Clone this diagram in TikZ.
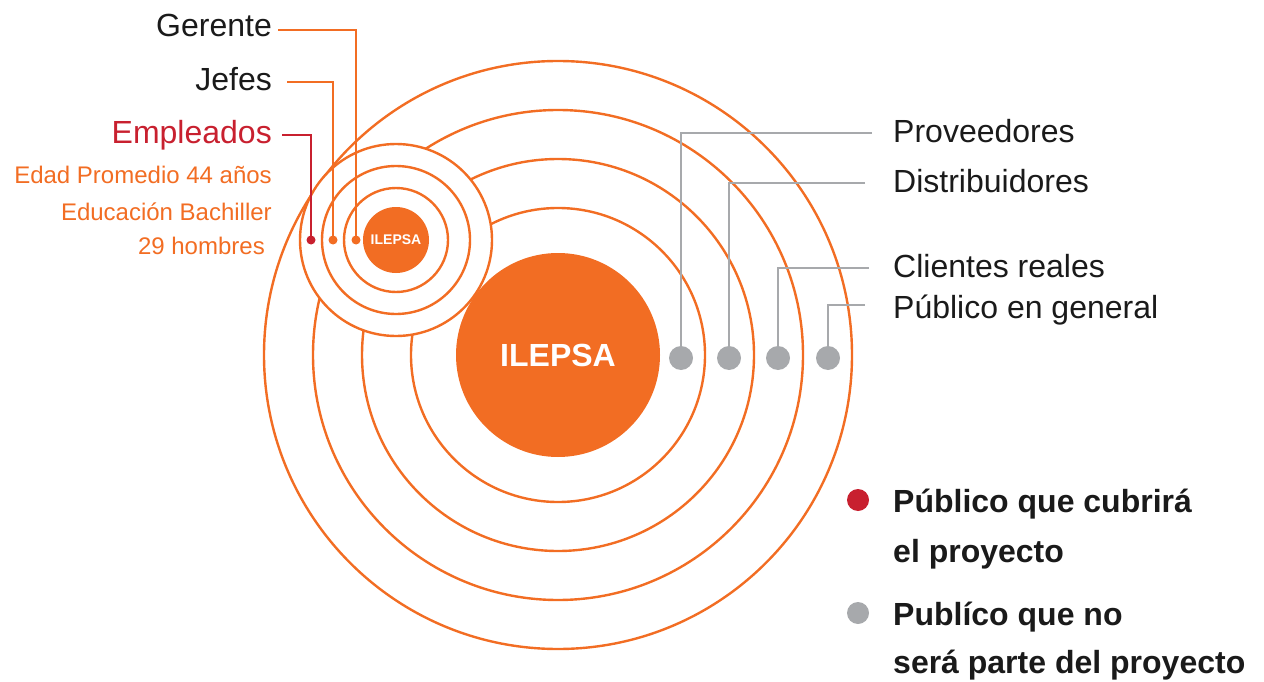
\documentclass[tikz,border=0pt]{standalone}
\usepackage{fontspec}
\setmainfont{Liberation Sans}
\definecolor{ora}{HTML}{F26D23}
\definecolor{redc}{HTML}{C8202F}
\definecolor{gry}{HTML}{A7A9AC}
\definecolor{ink}{HTML}{1A1A1A}
\tikzset{
  ring/.style={circle,draw=ora,line width=2.4pt,inner sep=0pt,fill=white},
  ringo/.style={circle,draw=ora,line width=2.4pt,inner sep=0pt},
  disk/.style={circle,fill=ora,inner sep=0pt,text=white,font=\bfseries},
  gdot/.style={circle,fill=gry,inner sep=0pt,minimum size=24pt},
  sdot/.style={circle,inner sep=0pt,minimum size=9pt},
  lbl/.style={inner sep=0pt,text=ink,font=\fontsize{32}{38}\selectfont},
  sub/.style={inner sep=0pt,text=ora,font=\fontsize{24}{28}\selectfont,anchor=base east},
  leg/.style={inner sep=0pt,text=ink,font=\fontsize{32}{38}\selectfont\bfseries,anchor=base west},
  gline/.style={draw=gry,line width=2.7pt},
  oline/.style={draw=ora,line width=2.4pt},
}
\begin{document}
\begin{tikzpicture}[x=1pt,y=-1pt]
\useasboundingbox (0,0) rectangle (1264,682);
% big concentric rings
\node[ringo,minimum size=588pt] (R4) at (558,355) {};
\node[ringo,minimum size=490pt] (R3) at (558,355) {};
\node[ringo,minimum size=392pt] (R2) at (558,355) {};
\node[ringo,minimum size=294pt] (R1) at (558,355) {};
\node[disk,minimum size=204pt,font=\fontsize{32}{38}\selectfont\bfseries] (big) at (558,355) {ILEPSA};
% small group
\node[ring,minimum size=192pt] (s3) at (396,240) {};
\node[ring,minimum size=148pt] (s2) at (396,240) {};
\node[ring,minimum size=104pt] (s1) at (396,240) {};
\node[disk,minimum size=66pt,font=\fontsize{14}{16}\selectfont\bfseries] (small) at (396,240) {ILEPSA};
% small dots
\node[sdot,fill=redc] (dE) at (311,240) {};
\node[sdot,fill=ora] (dJ) at (333,240) {};
\node[sdot,fill=ora] (dG) at (356,240) {};
% left labels
\node[lbl,anchor=base east] (gerente) at (272,37) {Gerente};
\node[lbl,anchor=base east] (jefes) at (272,91) {Jefes};
\node[lbl,anchor=base east,text=redc] (empleados) at (272,144) {Empleados};
\node[sub] (edad) at (272,183) {Edad Promedio 44 años};
\node[sub] (educ) at (272,220) {Educación Bachiller};
\node[sub] (homb) at (265,254) {29 hombres};
\coordinate (cG) at (278,30);
\coordinate (cJ) at (287,82);
\coordinate (cE) at (282,135);
\draw[oline] (cG) -| (dG.center);
\draw[oline] (cJ) -| (dJ.center);
\draw[draw=redc,line width=2.4pt] (cE) -| (dE.center);
% gray dots
\node[gdot] (g1) at (681,358) {};
\node[gdot] (g2) at (729,358) {};
\node[gdot] (g3) at (778,358) {};
\node[gdot] (g4) at (828,358) {};
% right labels
\node[lbl,anchor=base west] (prov) at (893,143) {Proveedores};
\node[lbl,anchor=base west] (dist) at (893,193) {Distribuidores};
\node[lbl,anchor=base west] (clie) at (893,277) {Clientes reales};
\node[lbl,anchor=base west] (publ) at (893,318) {Público en general};
\coordinate (c1) at (872,133);
\coordinate (c2) at (865,183);
\coordinate (c3) at (869,268);
\coordinate (c4) at (865,305);
\draw[gline] (c1) -| (g1);
\draw[gline] (c2) -| (g2);
\draw[gline] (c3) -| (g3);
\draw[gline] (c4) -| (g4);
% legend
\node[circle,fill=redc,inner sep=0pt,minimum size=22pt] (lr) at (858,500) {};
\node[circle,fill=gry,inner sep=0pt,minimum size=22pt] (lg) at (858,613) {};
\node[leg] (l1a) at (893,512) {Público que cubrirá};
\node[leg] (l1b) at (893,562) {el proyecto};
\node[leg] (l2a) at (893,625) {Publíco que no};
\node[leg] (l2b) at (893,673) {será parte del proyecto};
\end{tikzpicture}
\end{document}
